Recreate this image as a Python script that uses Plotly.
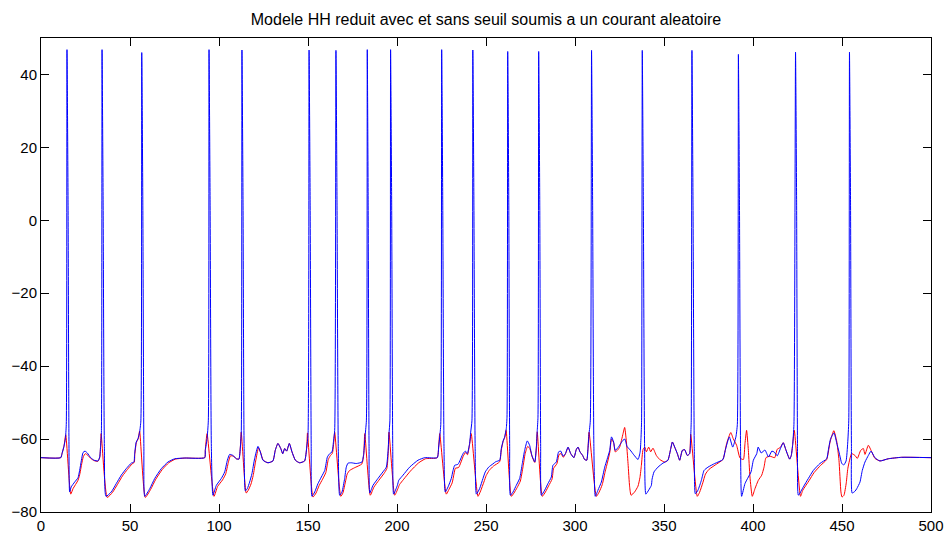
import plotly.graph_objects as go

# Reduced HH model, membrane potential (mV) versus time (ms)
# Blue: model without threshold (full spikes); red: model with threshold and reset.

t_sans_seuil = [
    0, 11.1, 11.8, 12.9, 13.7, 14.2, 14.6, 15.2, 15.7, 16.1, 17.0, 18.9, 20.8, 21.7, 22.7, 23.6,
    24.7, 26.0, 27.9, 29.8, 32.0, 33.0, 33.5, 33.9, 34.3, 34.9, 35.6, 36.5, 39.5, 42.3, 45.1,
    47.9, 50.7, 52.2, 52.6, 53.5, 54.5, 55.4, 56.1, 56.6, 57.2, 57.8, 58.3, 61.1, 63.9, 67.6,
    71.3, 75.1, 80.7, 92.0, 92.3, 93.3, 94.0, 94.4, 95.0, 95.7, 96.6, 98.5, 101.3, 103.2, 104.7,
    106.0, 107.9, 109.7, 111.2, 112.0, 112.5, 112.9, 113.5, 114.1, 114.8, 115.9, 117.2, 118.5,
    120.0, 121.9, 123.2, 124.7, 127.5, 130.3, 131.6, 133.1, 134.7, 135.8, 136.9, 138.0, 139.5,
    141.0, 142.9, 145.3, 148.1, 149.3, 150.0, 150.6, 151.2, 151.8, 152.2, 153.8, 155.6, 157.5,
    159.4, 160.9, 162.2, 163.5, 164.4, 165.0, 165.7, 166.3, 167.0, 167.8, 169.1, 170.6, 171.5,
    172.5, 174.3, 177.1, 180.3, 181.3, 182.0, 182.8, 183.3, 183.8, 184.3, 184.7, 186.5, 189.3,
    192.1, 194.0, 195.0, 195.5, 196.0, 196.4, 197.0, 197.6, 198.1, 200.2, 201.0, 203.4, 207.1,
    211.8, 215.6, 222.6, 223.4, 224.0, 224.6, 225.1, 225.7, 226.4, 227.1, 228.7, 230.5, 231.5,
    232.4, 234.3, 237.1, 238.4, 239.5, 240.8, 241.4, 242.1, 242.6, 243.2, 243.9, 244.6, 246.4,
    248.3, 249.6, 251.5, 253.9, 255.5, 257.7, 258.6, 259.6, 260.5, 261.4, 261.8, 262.2, 262.8,
    263.3, 263.7, 265.2, 267.0, 268.9, 270.4, 271.7, 273.2, 274.5, 275.8, 277.4, 278.3, 278.8,
    279.2, 279.6, 280.2, 280.7, 281.1, 283.0, 284.8, 286.7, 287.6, 289.5, 290.8, 292.0, 293.3,
    294.6, 296.1, 297.6, 299.4, 300.7, 301.7, 302.8, 304.3, 305.4, 306.6, 307.3, 307.9, 308.6,
    309.3, 309.9, 310.6, 311.4, 312.9, 314.8, 316.7, 318.0, 319.5, 320.5, 321.7, 322.6, 324.2,
    325.7, 327.0, 328.0, 329.2, 331.0, 333.0, 335.4, 336.6, 337.1, 337.4, 337.8, 338.4, 339.1,
    339.8, 341.4, 342.9, 343.3, 344.4, 346.6, 349.4, 352.2, 353.8, 354.7, 356.0, 357.5, 358.8,
    360.3, 361.6, 363.1, 364.4, 365.0, 365.3, 365.7, 366.3, 367.0, 367.6, 369.1, 371.0, 372.5,
    374.7, 378.5, 383.1, 384.4, 386.7, 388.6, 390.4, 391.2, 391.8, 392.4, 393.0, 393.6, 395.5,
    397.4, 398.9, 400.2, 402.1, 402.9, 404.6, 406.7, 408.7, 410.6, 412.0, 413.6, 415.5, 417.0,
    418.5, 420.6, 421.5, 422.3, 423.0, 423.9, 424.5, 425.0, 425.5, 428.3, 431.1, 433.9, 437.6,
    441.4, 442.3, 443.6, 445.5, 447.0, 448.3, 449.9, 451.0, 452.3, 453.2, 453.8, 454.2, 454.8,
    455.3, 455.7, 457.3, 458.3, 460.1, 461.4, 462.9, 464.8, 466.3, 468.5, 471.3, 476.0, 483.5,
    500.0,
]
v_sans_seuil = [
    -65.1, -65.1, -64.0, -62.0, -59.9, -56, 46.8, 5, -60, -74.5, -73.1, -71.8, -70.6, -68.6, -65.8, -63.7,
    -63.3, -63.8, -65.1, -65.8, -66.0, -64.9, -61.7, -59.0, 46.8, 5, -62, -75.7, -74.5, -72.2, -69.9,
    -68.1, -66.6, -66.3, -64.0, -60.8, -59.9, -58.1, -55, 46.0, 5, -62, -75.7, -73.6, -70.8, -68.1,
    -66.3, -65.4, -65.2, -65.1, -63.1, -59.9, -55, 46.8, 5, -62, -75.4, -72.7, -70.8, -69.0, -65.8,
    -64.2, -64.5, -65.4, -65.5, -62.2, -58.5, 46.7, 5, -62, -74.2, -73.6, -71.8, -69.5,
    -65.4, -62.0, -63.5, -65.8, -66.5, -66.0, -63.1, -61.2, -62.6, -64.0, -62.6, -63.3, -61.2,
    -63.5, -65.8, -66.5, -66.0, -62.2, -59.0, 46.7, 5, -62, -75.7, -74.5, -72.2, -70.4,
    -68.6, -64.9, -64.0, -63.5, -60.3, -57.6, 46.6, 5, -62, -75.4, -74.5, -70.8, -67.7,
    -66.6, -66.5, -66.7, -66.3, -64.0, -59.5, -55, 46.8, 5, -62, -74.8, -72.7, -70.8,
    -69.0, -67.7, -63.1, -58.5, -55, 46.8, 5, -62, -75.1, -72.7, -71.3, -69.9, -67.7,
    -65.8, -65.1, -65.1, -62.2, -59.4, -56, 46.8, 5, -62, -74.5, -73.1, -70.8, -68.6,
    -67.2, -66.9, -64.0, -63.3, -64.0, -61.2, -58.1, -55, 46.7, 5, -62, -75.1, -73.6,
    -70.8, -69.0, -67.7, -66.8, -66.2, -65.8, -62.6, -60.5, -59.4, -57.1, -54, 46.3, 5,
    -62, -75.4, -74.5, -72.7, -70.8, -66.7, -63.1, -60.5, -61.7, -64.5, -66.3, -62.2, -57.6,
    -54, 46.3, 5, -62, -75.4, -74.0, -72.2, -70.4, -67.2, -66.3, -63.5, -63.3, -64.7,
    -64.0, -62.2, -64.0, -65.1, -62.9, -62.2, -63.5, -64.5, -65.6, -65.8, -62.6, -58.5, -55,
    46.6, 5, -62, -75.7, -74.0, -71.8, -67.7, -65.6, -63.1, -59.4, -60.8, -63.1, -62.3,
    -61.2, -60.3, -60.0, -62.0, -63.0, -64.3, -65.6, -63.5, -59.5, -55, 46.6, 5, -62,
    -75.1, -74.0, -72.7, -71.0, -69.0, -67.7, -66.6, -65.8, -62.6, -60.8, -62.2, -64.0, -65.8,
    -63.1, -62.9, -64.5, -64.0, -59.4, -55, 46.6, 5, -62, -75.0, -74.0, -71.3, -68.6,
    -67.7, -66.7, -65.6, -63.1, -59.4, -62.2, -59.4, -56, 45.5, 5, -62, -75.7, -72.2,
    -70.4, -69.0, -65.8, -64.0, -62.2, -63.8, -63.0, -64.9, -63.3, -63.6, -64.6, -62.5, -61.0,
    -63.0, -65.5, -64.5, -61.5, -56, 46.1, 5, -62, -75.4, -73.1, -70.8, -68.6, -66.7,
    -65.4, -63.1, -59.9, -58.3, -61.0, -63.5, -66.7, -67.1, -66.0, -61.1, -55, 46.1, 5,
    -62, -74.8, -74.3, -73.6, -71.8, -68.6, -66.3, -64.5, -63.3, -65.1, -66.0, -65.4, -65.0,
    -65.1,
]

t_avec_seuil = [
    0, 11.1, 11.8, 12.9, 13.9, 16.7, 18.0, 20.8, 21.9, 22.7, 23.8, 24.9, 26.4, 27.9, 29.8, 32.0,
    33.0, 33.5, 33.8, 37.2, 40.2, 43.0, 45.8, 48.6, 51.2, 52.4, 52.7, 53.6, 54.6, 55.4, 58.6,
    61.6, 64.5, 68.2, 71.8, 75.5, 81.0, 92.0, 92.3, 93.3, 97.2, 99.2, 102.0, 103.8, 105.2, 106.4,
    108.1, 109.8, 111.2, 112.0, 112.5, 115.3, 116.5, 118.0, 119.2, 120.6, 122.2, 123.4, 124.8,
    127.5, 130.3, 131.6, 133.1, 134.7, 135.8, 136.9, 138.0, 139.5, 141.0, 142.9, 145.3, 148.1,
    149.3, 149.7, 152.8, 154.5, 156.3, 158.2, 160.0, 161.4, 162.6, 163.7, 164.5, 165.0, 168.4,
    169.6, 171.0, 172.0, 173.4, 176.0, 180.3, 181.3, 181.9, 185.0, 187.0, 189.8, 192.6, 194.3,
    195.1, 195.5, 198.7, 200.5, 201.4, 203.8, 207.5, 212.2, 216.0, 222.6, 223.4, 224.0, 227.7,
    229.2, 231.0, 232.0, 232.8, 234.6, 237.3, 238.5, 239.6, 240.8, 241.7, 245.5, 247.0, 248.8,
    250.1, 251.8, 254.2, 257.7, 258.6, 259.6, 260.5, 261.3, 264.2, 265.7, 267.5, 269.3, 270.8,
    272.0, 273.4, 274.6, 275.9, 277.4, 278.3, 278.8, 281.6, 283.4, 285.2, 287.1, 288.0, 289.8,
    291.1, 292.2, 293.4, 294.6, 296.1, 297.6, 299.4, 300.7, 301.7, 302.8, 304.3, 305.4, 306.6,
    307.3, 307.9, 312.0, 313.5, 315.3, 317.0, 318.3, 319.6, 320.5, 321.7, 322.6, 324.0, 325.1,
    327.0, 327.9, 328.8, 329.8, 330.7, 331.5, 333.5, 335.4, 336.5, 337.3, 338.2, 339.2, 340.1,
    341.4, 342.5, 343.8, 345.7, 347.6, 350.4, 352.2, 353.8, 354.7, 356.0, 357.5, 358.8, 360.3,
    361.6, 363.1, 364.4, 365.0, 368.7, 370.0, 371.8, 373.3, 375.3, 378.8, 383.1, 384.4, 385.2,
    387.5, 388.9, 390.8, 392.7, 394.6, 395.5, 396.4, 397.4, 398.3, 399.6, 401.1, 403.0, 404.9,
    406.2, 407.3, 409.6, 412.2, 413.6, 415.3, 417.0, 418.5, 420.6, 421.5, 422.3, 423.2, 426.7,
    428.0, 431.5, 434.3, 438.0, 441.4, 443.3, 445.4, 447.0, 448.3, 449.4, 450.0, 451.1, 452.4,
    453.3, 455.4, 457.3, 458.6, 460.5, 462.0, 462.9, 464.8, 466.7, 468.5, 471.3, 476.0, 483.5,
    500.0,
]
v_avec_seuil = [
    -65.1, -65.1, -64.0, -62.0, -58.8, -75.1, -73.6, -71.3, -69.4, -67.2, -64.8, -64.0, -64.5, -65.3, -65.9, -66.1,
    -65.0, -61.7, -58.5, -76.0, -74.6, -72.4, -70.1, -68.3, -66.8, -66.4, -64.2, -60.9, -59.9, -57.8, -76.0,
    -73.8, -71.0, -68.3, -66.5, -65.5, -65.2, -65.1, -63.1, -58.5, -75.7, -73.0, -71.2, -69.5, -66.5, -64.6,
    -64.7, -65.4, -65.5, -62.2, -58.1, -74.8, -74.0, -72.3, -70.0, -66.0, -62.4, -63.7, -65.8,
    -66.5, -66.0, -63.1, -61.2, -62.6, -64.0, -62.6, -63.3, -61.2, -63.5, -65.8, -66.5, -66.0,
    -62.2, -58.3, -75.9, -74.8, -72.7, -71.0, -69.2, -65.6, -64.5, -63.9, -60.8, -58.1, -75.7,
    -74.8, -71.8, -69.6, -68.6, -67.9, -66.8, -64.3, -58.5, -75.4, -73.2, -71.3, -69.5, -68.1,
    -63.5, -58.1, -75.4, -73.6, -72.5, -71.0, -68.8, -66.5, -65.4, -65.1, -62.2, -58.5, -75.1,
    -73.8, -72.0, -69.6, -68.0, -67.8, -64.6, -63.7, -64.3, -61.4, -58.5, -75.7, -74.2, -71.8,
    -70.0, -68.6, -67.4, -66.2, -63.0, -60.7, -59.6, -57.6, -75.7, -74.8, -73.3, -71.5, -67.6,
    -64.0, -62.0, -62.6, -64.8, -66.4, -62.4, -58.0, -75.7, -74.5, -72.8, -71.0, -68.0, -66.8,
    -64.2, -64.0, -65.0, -64.1, -62.3, -64.0, -65.1, -62.9, -62.2, -63.5, -64.5, -65.6, -65.8,
    -62.6, -58.1, -75.7, -74.6, -72.5, -68.8, -66.3, -63.5, -60.0, -61.0, -63.5, -63.0, -62.2,
    -58.5, -56.8, -60.3, -66.7, -73.1, -75.4, -74.5, -72.9, -70.5, -67.2, -62.9, -62.2, -63.5,
    -62.2, -63.5, -62.5, -64.5, -65.6, -66.3, -65.8, -62.6, -60.8, -62.2, -64.0, -65.8, -63.1,
    -62.9, -64.5, -64.0, -58.7, -75.7, -74.6, -72.0, -69.6, -68.3, -67.1, -65.6, -63.1, -61.2,
    -58.2, -59.9, -61.7, -65.2, -65.6, -61.2, -57.6, -63.1, -70.4, -75.7, -73.6, -71.3, -69.9,
    -67.7, -65.1, -64.7, -65.1, -62.8, -62.3, -61.0, -63.0, -65.5, -64.5, -61.5, -57.6, -75.7,
    -74.0, -71.4, -69.2, -67.2, -65.6, -60.8, -57.7, -60.5, -65.8, -74.5, -75.9, -75.4, -72.0,
    -68.0, -64.0, -64.5, -65.3, -63.1, -62.6, -64.2, -61.7, -63.5, -65.3, -66.0, -65.4, -65.0,
    -65.1,
]

titre = "Modele HH reduit avec et sans seuil soumis a un courant aleatoire"
x_ticks = [0, 50, 100, 150, 200, 250, 300, 350, 400, 450, 500]
y_ticks = [-80, -60, -40, -20, 0, 20, 40]

fig = go.Figure()
fig.add_trace(go.Scatter(x=t_avec_seuil, y=v_avec_seuil, mode="lines",
                         line=dict(color="#ff0000", width=1, shape="spline", smoothing=0.5),
                         name="avec seuil"))
fig.add_trace(go.Scatter(x=t_sans_seuil, y=v_sans_seuil, mode="lines",
                         line=dict(color="#0000ff", width=1, shape="spline", smoothing=0.5),
                         name="sans seuil"))

axis_style = dict(
    showline=True, linecolor="black", linewidth=1, mirror="allticks",
    ticks="inside", ticklen=8, tickwidth=1, tickcolor="black",
    showgrid=False, zeroline=False, automargin=False,
    tickfont=dict(family="Liberation Sans, Arial, sans-serif", size=15, color="black"),
)

fig.update_layout(
    width=946, height=534,
    margin=dict(l=41, r=15, t=38, b=22, autoexpand=False),
    paper_bgcolor="white", plot_bgcolor="white",
    showlegend=False,
    title=dict(text=titre, x=0.5, xref="paper", xanchor="center",
               y=1 - 19 / 534, yref="container", yanchor="middle",
               font=dict(family="Liberation Sans, Arial, sans-serif", size=16, color="black")),
    xaxis=dict(range=[0, 500], tickvals=x_ticks, **axis_style),
    yaxis=dict(range=[-80, 50], tickvals=y_ticks, **axis_style),
)

fig.write_html("out.html")
